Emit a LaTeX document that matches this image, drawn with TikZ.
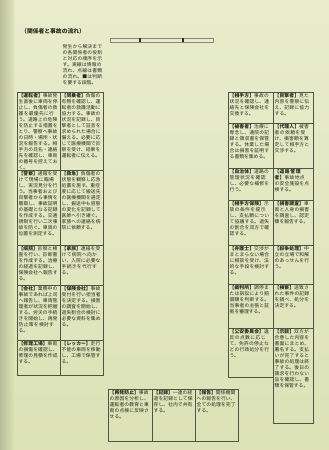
\documentclass[tikz,border=0pt]{standalone}
\usepackage{fontspec}
\newfontfamily\jpfont{Noto Sans CJK JP}
\XeTeXlinebreaklocale "ja"
\XeTeXlinebreakskip=0pt plus 0.6pt
\usetikzlibrary{positioning}
\definecolor{paper}{HTML}{DCE2B6}
\definecolor{paperlight}{HTML}{E8ECCC}
\definecolor{paperedge}{HTML}{AEB48E}
\definecolor{inkdark}{HTML}{262C1E}
\definecolor{boxline}{HTML}{4E5544}
% frame plus top-aligned text: name, x, y, width, height, text
\newcommand{\cellbox}[6]{%
  \pgfmathsetmacro{\cellw}{#4-3}
  \node[cellframe,minimum width=#4pt,minimum height=#5pt] (#1) at (#2,#3) {};
  \node[celltext,text width=\cellw pt] (#1-txt) at (#1.north west) {#6};
}
\newcommand{\hd}[1]{\textbf{【#1】}}

\begin{document}
\begin{tikzpicture}[x=1pt,y=-1pt,
  every node/.style={inner sep=0pt},
  cellframe/.style={draw=boxline,line width=0.5pt,anchor=north west},
  celltext/.style={anchor=north west,inner xsep=1.5pt,inner ysep=1.6pt,align=left,
    font=\jpfont\fontsize{4.8}{6.0}\selectfont,text=inkdark},
  titletext/.style={anchor=north west,font=\jpfont\bfseries\fontsize{5.8}{6.5}\selectfont,text=inkdark},
  barmark/.style={fill=inkdark,minimum width=1.8pt,minimum height=4.5pt}
]
  % paper
  \useasboundingbox (0,0) rectangle (329,450);
  \shade[top color=paperlight,bottom color=paper] (0,0) rectangle (329,450);
  \shade[left color=paperedge,right color=paper,opacity=0.8] (0,0) rectangle (14,450);

  % heading and time bar
  \node[titletext] (title) at (21,28) {（関係者と事故の流れ）};
  \node[draw=boxline!70,line width=0.35pt,minimum width=103pt,minimum height=4pt,anchor=west] (bar) at (110,40) {};
  \node[barmark] (mark1) at (140,40) {};
  \node[barmark] (mark2) at (183,40) {};
  \node[celltext,text width=42pt] (intro) at (61,43) {発生から解決までの各関係者の役割と対応の順序を示す。実線は情報の流れ、点線は書類の流れ。■は判断を要する段階。};

  % left column
  \cellbox{drv}{17}{92}{43}{78}{\hd{運転者}事故発生直後に車両を停止し、負傷者の救護を最優先に行う。道路上の危険を防止する措置をとり、警察へ事故の日時・場所・状況を報告する。相手方の氏名・連絡先を確認し、車両の番号を控えておく。}
  \cellbox{psg}{60}{92}{43}{78}{\hd{同乗者}負傷の有無を確認し、運転者の救護活動に協力する。事故の状況を記録し、目撃者として証言を求められた場合に備える。必要に応じて医療機関で診察を受け、結果を運転者に伝える。}
  \cellbox{pol}{17}{170}{43}{75}{\hd{警察}通報を受けて現場に臨場し、実況見分を行う。当事者および目撃者から事情を聴取し、事故証明の基礎となる記録を作成する。交通規制を行い二次事故を防ぐ。車両の位置を測定する。}
  \cellbox{amb}{60}{170}{43}{75}{\hd{救急}負傷者の状態を観察し応急処置を施す。重症度に応じて搬送先の医療機関を選定し、搬送中も容態の変化を記録して医師へ引き継ぐ。家族への連絡を病院に依頼する。}
  \cellbox{hsp}{17}{245}{43}{40}{\hd{病院}診察と検査を行い、診断書を作成する。治療の経過を記録し、保険会社へ報告する。}
  \cellbox{fam}{60}{245}{43}{40}{\hd{家族}連絡を受けて病院へ向かい、入院に必要な手続きを代行する。}
  \cellbox{cmp}{17}{285}{43}{55}{\hd{会社}業務中の事故であれば上司へ報告し、車両管理者が状況を把握する。労災の手続きを開始し、再発防止策を検討する。}
  \cellbox{ins}{60}{285}{43}{55}{\hd{保険会社}事故受付を行い担当者を決定する。損害の調査を開始し、過失割合の検討に必要な資料を集める。}
  \cellbox{rep}{17}{340}{43}{35}{\hd{修理工場}車両の損傷を確認し、修理の見積を作成する。}
  \cellbox{tow}{60}{340}{43}{35}{\hd{レッカー}走行不能の車両を移動し、工場で保管する。}

  % right column
  \cellbox{opp}{228}{92}{45}{31}{\hd{相手方}事故の状況を確認し、連絡先と保険会社を交換する。}
  \cellbox{wit}{273}{92}{40}{31}{\hd{目撃者}見た内容を警察に伝え、記録に協力する。}
  \cellbox{vic}{228}{123}{45}{45}{\hd{被害者}治療に専念し、通院の記録と領収書を保管する。休業した場合は損害を証明する書類を集める。}
  \cellbox{agt}{273}{123}{40}{45}{\hd{代理人}被害者の依頼を受け、損害額を算定して相手方と交渉する。}
  \cellbox{cty}{228}{168}{45}{32}{\hd{自治体}道路の管理状況を確認し、必要な補修を行う。}
  \cellbox{rdm}{273}{168}{40}{32}{\hd{道路管理者}事故地点の安全施設を点検する。}
  \cellbox{oins}{228}{200}{45}{45}{\hd{相手方保険}示談の条件を提示し、支払額について協議する。過失の割合を双方で確認する。}
  \cellbox{adj}{273}{200}{40}{45}{\hd{損害調査}車両と人身の損害を調査し、認定額を報告する。}
  \cellbox{law}{228}{245}{45}{39}{\hd{弁護士}交渉がまとまらない場合に相談を受け、法的な手段を検討する。}
  \cellbox{adr}{273}{245}{40}{39}{\hd{紛争処理}中立の立場で和解のあっせんを行う。}
  \cellbox{crt}{228}{284}{45}{44}{\hd{裁判所}調停または訴訟により賠償額を判断する。当事者の主張と証拠を審理する。}
  \cellbox{prs}{273}{284}{40}{44}{\hd{検察}送致された事件の記録を調べ、処分を決定する。}
  \cellbox{psc}{228}{328}{45}{49}{\hd{公安委員会}違反の点数に応じて、免許の停止などの行政処分を行う。}
  \cellbox{stl}{273}{328}{40}{95}{\hd{示談}双方が合意した内容を書面にまとめ、署名する。支払いが完了すると事故の処理は終了する。後日の請求を行わない旨を確認し、書類を保管する。}

  % bottom row
  \cellbox{prv}{108}{389}{44}{52}{\hd{再発防止}事故の原因を分析し、運転者の教育と車両の点検に反映させる。}
  \cellbox{rec}{152}{389}{43}{52}{\hd{記録}一連の経過を記録として保存し、社内で共有する。}
  \cellbox{rpt}{195}{389}{43}{52}{\hd{報告}関係機関への報告を行い、全ての処理を完了する。}
\end{tikzpicture}
\end{document}
